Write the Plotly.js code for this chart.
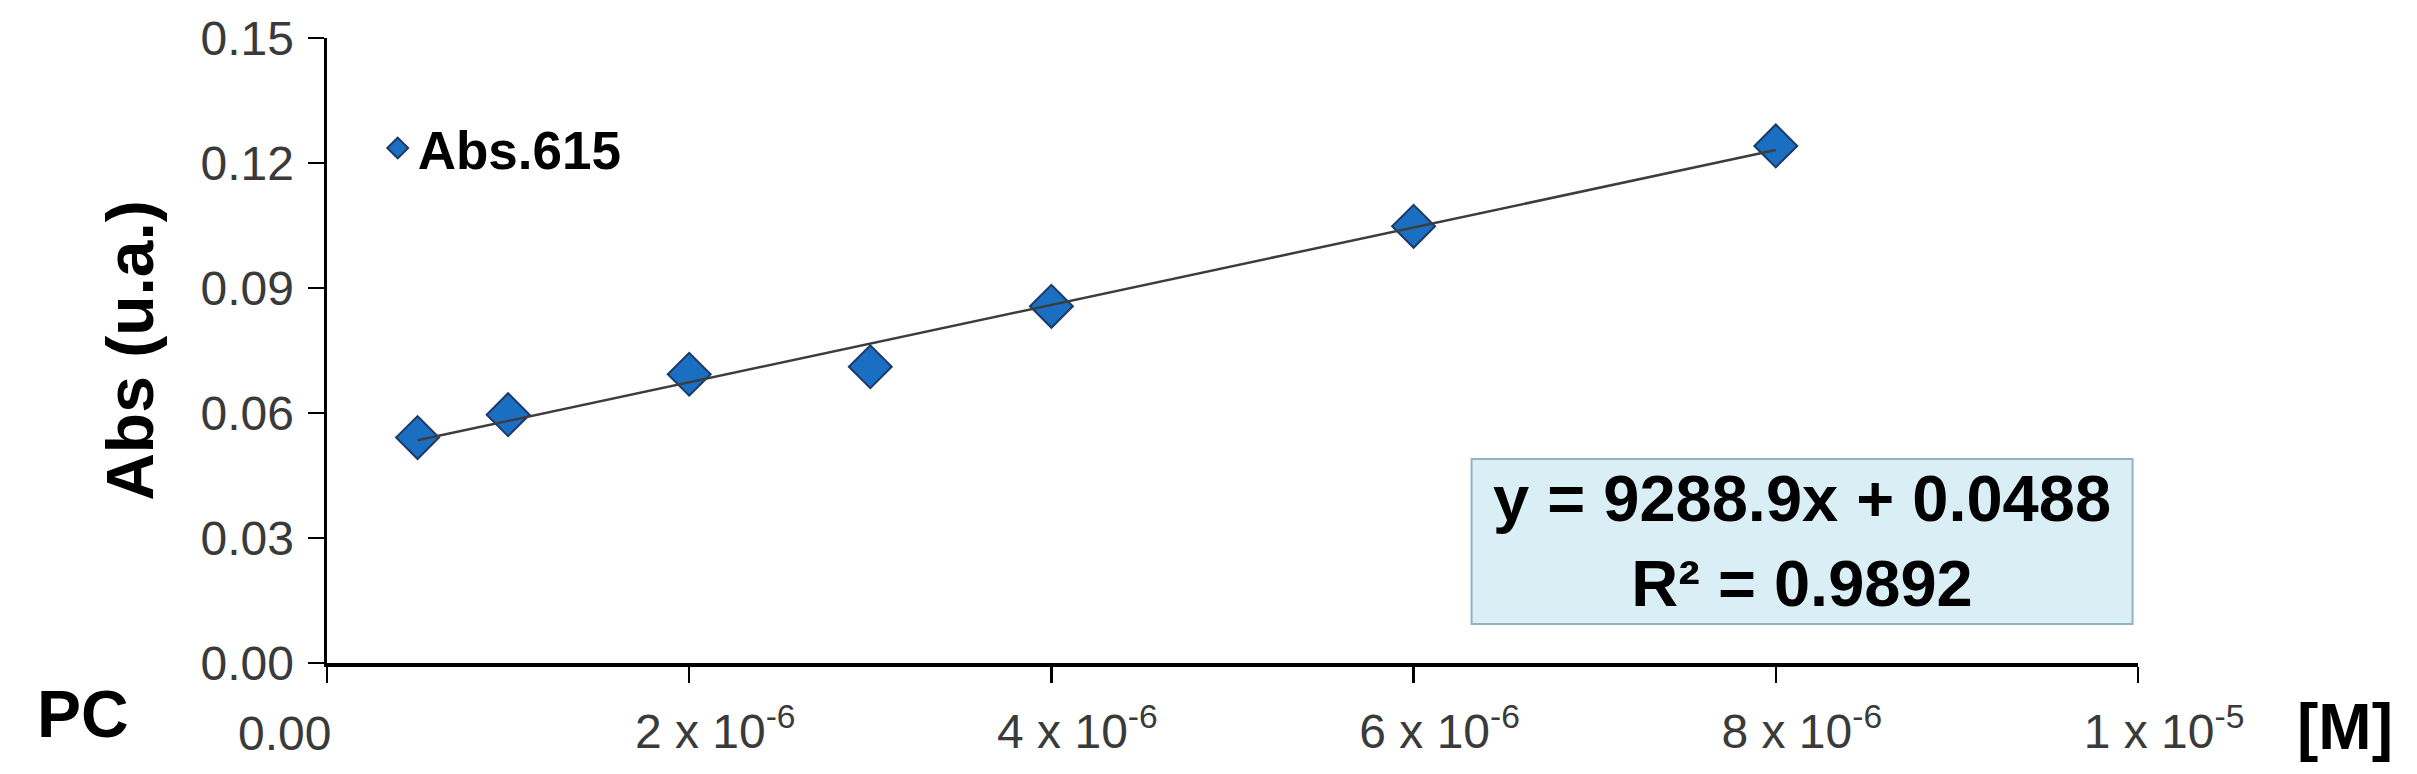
<!DOCTYPE html>
<html>
<head>
<meta charset="utf-8">
<script src="https://cdn.plot.ly/plotly-3.0.1.min.js"></script>
<style>
    html, body { margin: 0; padding: 0; background: #fff; }
    #chart { width: 2417px; height: 774px; }
</style>
</head>
<body>
<div id="chart"></div>
<script>
// PC calibration, absorbance at 615 nm
const concentration = [0.5e-6, 1e-6, 2e-6, 3e-6, 4e-6, 6e-6, 8e-6];
const absorbance    = [0.0541, 0.0596, 0.0693, 0.0711, 0.0856, 0.1048, 0.1241];
const seriesName = "Abs.615";

// linear fit as printed on the chart
const fitSlope = 9288.9;
const fitIntercept = 0.0488;
const fitR2 = 0.9892;

const xTickVals = [0, 2e-6, 4e-6, 6e-6, 8e-6, 1e-5];
const xTickText = ["", "2 x 10<sup>-6</sup>", "4 x 10<sup>-6</sup>", "6 x 10<sup>-6</sup>",
                   "8 x 10<sup>-6</sup>", "1 x 10<sup>-5</sup>"];
const yTickVals = [0, 0.03, 0.06, 0.09, 0.12, 0.15];

const FONT = "Liberation Sans, Arial, sans-serif";

function drawChart(){
    const xFit = [Math.min(...concentration), Math.max(...concentration)];
    const yFit = xFit.map(x => fitSlope * x + fitIntercept);

    const points = {
        type: "scatter",
        mode: "markers",
        name: seriesName,
        x: concentration,
        y: absorbance,
        marker: {
            symbol: "diamond",
            size: 33,
            color: "#1b6fc2",
            line: {color: "#1d3a66", width: 2}
        }
    };

    const trend = {
        type: "scatter",
        mode: "lines",
        x: xFit,
        y: yFit,
        showlegend: false,
        line: {color: "#3d3d3d", width: 2.5}
    };

    const axisCommon = {
        showline: true,
        linecolor: "#000",
        linewidth: 3.5,
        ticks: "outside",
        ticklen: 16,
        tickwidth: 2.5,
        tickcolor: "#000",
        showgrid: false,
        zeroline: false,
        tickfont: {family: FONT, size: 48, color: "#3a3a3a"}
    };

    const layout = {
        width: 2417,
        height: 774,
        paper_bgcolor: "#fff",
        plot_bgcolor: "#fff",
        margin: {l: 327, r: 279, t: 38, b: 111},
        showlegend: true,
        legend: {
            x: 0.028, xanchor: "left",
            y: 0.824, yanchor: "middle",
            bgcolor: "rgba(0,0,0,0)",
            font: {family: FONT, size: 53, color: "#000", weight: "bold"}
        },
        xaxis: Object.assign({}, axisCommon, {
            range: [0, 1e-5],
            tickmode: "array",
            tickvals: xTickVals,
            ticktext: xTickText,
            ticklabelshift: 26,
            ticklabelstandoff: 8
        }),
        yaxis: Object.assign({}, axisCommon, {
            range: [0, 0.15],
            tickmode: "array",
            tickvals: yTickVals,
            tickformat: ".2f",
            ticklabelstandoff: 4,
            title: {
                text: "<b>Abs (u.a.)</b>",
                font: {family: FONT, size: 66, color: "#000"},
                standoff: 26
            }
        }),
        shapes: [{
            type: "rect",
            xref: "paper", yref: "paper",
            x0: 0.632, x1: 0.997, y0: 0.0624, y1: 0.3264,
            fillcolor: "#daeef6",
            line: {color: "#8fb4c9", width: 2},
            layer: "below"
        }],
        annotations: [
            {
                xref: "paper", yref: "paper",
                x: 0.8145, y: 0.196, xanchor: "center", yanchor: "middle",
                showarrow: false, align: "center",
                text: "<b>y = " + fitSlope.toFixed(1) + "x + " + fitIntercept.toFixed(4) +
                      "<br>R² = " + fitR2.toFixed(4) + "</b>",
                font: {family: FONT, size: 65, color: "#000"}
            },
            {
                xref: "x", yref: "paper",
                x: 0, y: 0, xanchor: "right", yanchor: "top", yshift: -42, xshift: 6,
                showarrow: false,
                text: "0.00",
                font: {family: FONT, size: 48, color: "#3a3a3a"}
            },
            {
                xref: "paper", yref: "paper",
                x: 0, y: 0, xanchor: "center", yanchor: "middle",
                xshift: -244, yshift: -51,
                showarrow: false,
                text: "<b>PC</b>",
                font: {family: FONT, size: 66, color: "#000"}
            },
            {
                xref: "paper", yref: "paper",
                x: 1, y: 0, xanchor: "center", yanchor: "middle",
                xshift: 207, yshift: -64,
                showarrow: false,
                text: "<b>[M]</b>",
                font: {family: FONT, size: 64, color: "#000"}
            }
        ]
    };

    Plotly.newPlot("chart", [points, trend], layout, {displayModeBar: false, staticPlot: true});
}

document.addEventListener("DOMContentLoaded", drawChart);
</script>
</body>
</html>
